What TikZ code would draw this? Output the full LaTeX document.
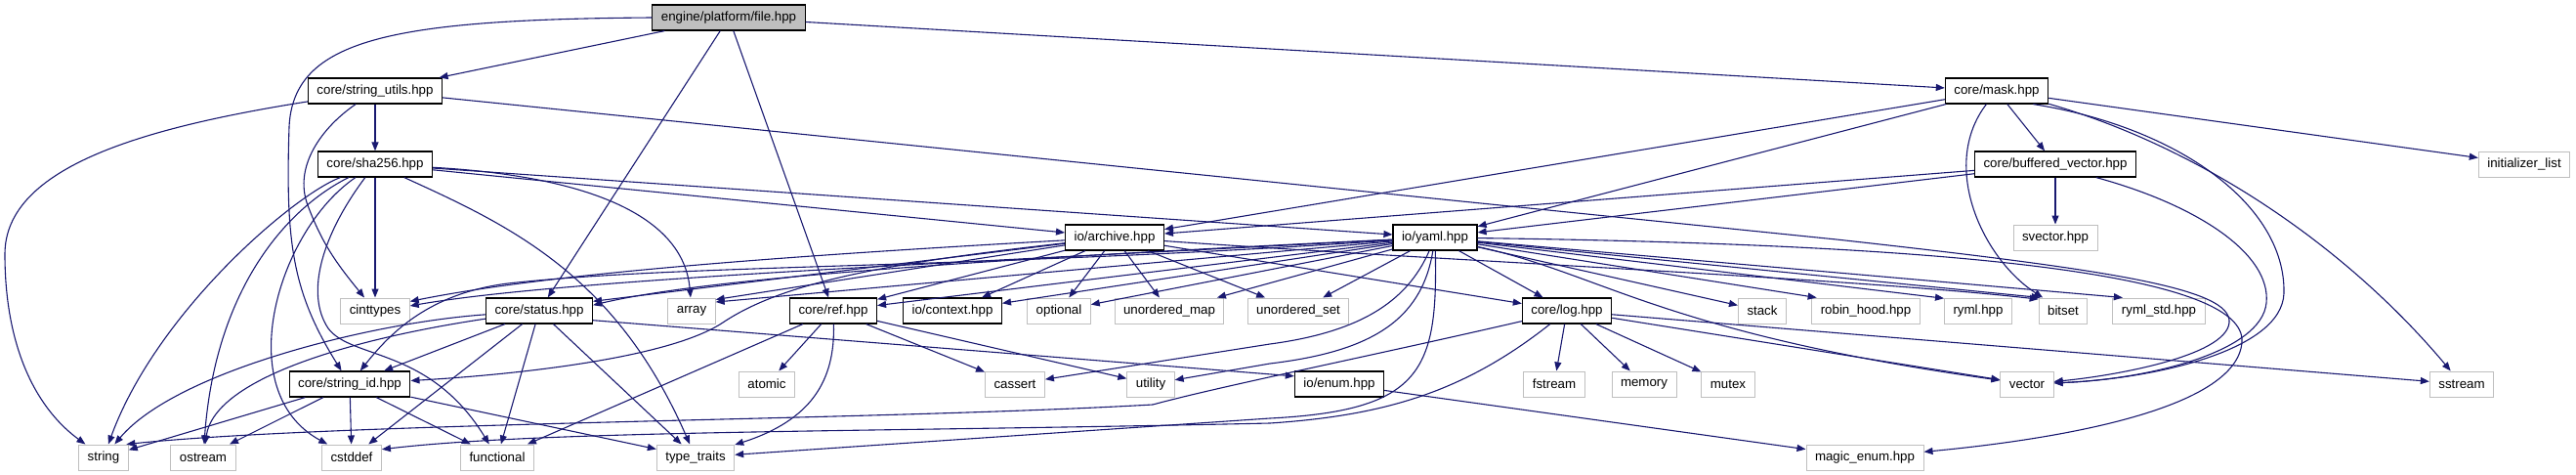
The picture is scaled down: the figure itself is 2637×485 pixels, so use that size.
\documentclass[tikz,border=0pt]{standalone}
\usepackage{fontspec}
\setmainfont{Liberation Sans}
\usetikzlibrary{arrows.meta}
\definecolor{incbleu}{HTML}{191970}
\definecolor{sysgris}{HTML}{BFBFBF}
\tikzset{>={Triangle[length=9pt,width=7pt]},
 fich/.style={draw,rectangle,fill=white,minimum height=26pt,inner xsep=9pt,inner ysep=0pt,font=\fontsize{13.3}{15}\selectfont},
 hdr/.style={fich,draw=black,line width=1.2pt},
 sys/.style={fich,draw=sysgris,line width=1pt},
 racine/.style={hdr,fill=sysgris},
 inc/.style={->,draw=incbleu,line width=1.1pt}}

\begin{document}
\begin{tikzpicture}[x=1pt,y=-1pt]
\useasboundingbox (0,0) rectangle (2637,485);
% Fichier racine et en-tetes du projet, rangee par rangee.
\node[racine] (engine) at (746,18) {engine/platform/file.hpp};
\node[hdr] (stru) at (384,93) {core/string\_utils.hpp};
\node[hdr] (mask) at (2044,93) {core/mask.hpp};
\node[hdr] (sha) at (384,168) {core/sha256.hpp};
\node[hdr] (bufvec) at (2104,168) {core/buffered\_vector.hpp};
\node[sys] (initlist) at (2584,168) {initializer\_list};
\node[hdr] (archive) at (1141,243) {io/archive.hpp};
\node[hdr] (yaml) at (1469,243) {io/yaml.hpp};
\node[sys] (svector) at (2104,243) {svector.hpp};
% Rangee du milieu.
\node[sys] (cinttypes) at (384,318) {cinttypes};
\node[hdr] (status) at (552,318) {core/status.hpp};
\node[sys] (array) at (708,318) {array};
\node[hdr] (ref) at (853,318) {core/ref.hpp};
\node[hdr] (context) at (975,318) {io/context.hpp};
\node[sys] (optional) at (1084,318) {optional};
\node[sys] (umap) at (1197,318) {unordered\_map};
\node[sys] (uset) at (1329,318) {unordered\_set};
\node[hdr] (log) at (1604,318) {core/log.hpp};
\node[sys] (stack) at (1804,318) {stack};
\node[sys] (robin) at (1910,318) {robin\_hood.hpp};
\node[sys] (ryml) at (2025,318) {ryml.hpp};
\node[sys] (bitset) at (2112,318) {bitset};
\node[sys] (rymlstd) at (2210,318) {ryml\_std.hpp};
\node[hdr] (strid) at (358,393) {core/string\_id.hpp};
\node[sys] (atomic) at (785,393) {atomic};
\node[sys] (cassert) at (1039,393) {cassert};
\node[sys] (utility) at (1178,393) {utility};
\node[hdr] (enum) at (1371,393) {io/enum.hpp};
\node[sys] (fstream) at (1591,393) {fstream};
\node[sys] (memory) at (1683,393) {memory};
\node[sys] (mutex) at (1769,393) {mutex};
\node[sys] (vector) at (2075,393) {vector};
\node[sys] (sstream) at (2520,393) {sstream};
% En-tetes standard du bas.
\node[sys] (string) at (106,468) {string};
\node[sys] (ostream) at (208,468) {ostream};
\node[sys] (cstddef) at (360,468) {cstddef};
\node[sys] (functional) at (509,468) {functional};
\node[sys] (typetraits) at (712,468) {type\_traits};
\node[sys] (magic) at (1909,468) {magic\_enum.hpp};
% Inclusions de la racine.
\draw[inc] (engine) -- (stru);
\draw[inc] (engine) -- (mask);
\draw[inc] (engine) -- (status);
\draw[inc] (engine) -- (ref);
\draw[inc] (engine.west) .. controls (400,20) and (300,40) .. (296,130) .. controls (292,250) and (300,300) .. (strid);
% core/string_utils.hpp
\draw[inc] (stru) -- (sha);
\draw[inc] (stru) .. controls (150,130) and (5,170) .. (5,260) .. controls (5,360) and (40,420) .. (string);
\draw[inc] (stru) .. controls (330,130) and (300,170) .. (315,210) .. controls (330,250) and (345,270) .. (cinttypes);
\draw[inc] (stru) -- (1880,245) .. controls (2160,276) and (2285,295) .. (2282,330) .. controls (2279,365) and (2160,385) .. (vector);
% core/sha256.hpp
\draw[inc] (sha) -- (archive);
\draw[inc] (sha) -- (yaml);
\draw[inc] (sha) .. controls (600,180) and (700,220) .. (array);
\draw[inc] (sha) .. controls (300,200) and (160,320) .. (string);
\draw[inc] (sha) .. controls (290,215) and (220,300) .. (ostream);
\draw[inc] (sha) .. controls (285,235) and (235,400) .. (cstddef);
\draw[inc] (sha) .. controls (330,240) and (312,300) .. (336,336) .. controls (360,368) and (440,355) .. (functional);
\draw[inc] (sha) -- (cinttypes);
\draw[inc] (sha) .. controls (520,230) and (630,280) .. (typetraits);
% core/mask.hpp et core/buffered_vector.hpp
\draw[inc] (mask) -- (archive);
\draw[inc] (mask) -- (yaml);
\draw[inc] (mask) -- (bufvec);
\draw[inc] (mask) -- (initlist);
\draw[inc] (mask.-128) .. controls (1985,170) and (2030,265) .. (bitset);
\draw[inc] (mask.-20) .. controls (2230,130) and (2340,210) .. (2338,300) .. controls (2336,360) and (2200,388) .. (vector);
\draw[inc] (mask.-14) .. controls (2250,150) and (2400,250) .. (sstream);
\draw[inc] (bufvec) -- (archive);
\draw[inc] (bufvec) -- (yaml);
\draw[inc] (bufvec) -- (svector);
\draw[inc] (bufvec.-18) .. controls (2250,210) and (2325,260) .. (2320,310) .. controls (2315,360) and (2200,388) .. (vector);
% io/archive.hpp
\draw[inc] (archive) .. controls (800,262) and (560,280) .. (cinttypes.15);
\draw[inc] (archive) -- (status.10);
\draw[inc] (archive) -- (array.25);
\draw[inc] (archive) -- (ref);
\draw[inc] (archive) -- (context);
\draw[inc] (archive) -- (optional);
\draw[inc] (archive) -- (umap);
\draw[inc] (archive) -- (uset);
\draw[inc] (archive) .. controls (900,270) and (800,290) .. (740,330) .. controls (680,370) and (500,385) .. (strid);
\draw[inc] (archive) -- (log);
\draw[inc] (archive) .. controls (1500,268) and (1900,285) .. (bitset.155);
% io/yaml.hpp
\draw[inc] (yaml) .. controls (1000,268) and (580,285) .. (cinttypes.8);
\draw[inc] (yaml) .. controls (900,270) and (700,290) .. (status.6);
\draw[inc] (yaml) -- (array.20);
\draw[inc] (yaml) -- (ref);
\draw[inc] (yaml) -- (context);
\draw[inc] (yaml) -- (optional);
\draw[inc] (yaml) -- (umap);
\draw[inc] (yaml) -- (uset);
\draw[inc] (yaml) .. controls (1000,275) and (700,270) .. (520,290) .. controls (440,300) and (400,340) .. (strid);
\draw[inc] (yaml) -- (log);
\draw[inc] (yaml) -- (stack);
\draw[inc] (yaml) -- (robin.165);
\draw[inc] (yaml) -- (ryml.160);
\draw[inc] (yaml) -- (bitset.150);
\draw[inc] (yaml) -- (rymlstd.160);
\draw[inc] (yaml) .. controls (1640,280) and (1700,340) .. (vector);
\draw[inc] (yaml) .. controls (2000,250) and (2300,280) .. (2295,350) .. controls (2290,420) and (2100,450) .. (magic);
\draw[inc] (yaml) .. controls (1440,310) and (1390,340) .. (1300,352) -- (cassert);
\draw[inc] (yaml) .. controls (1455,330) and (1400,360) .. (1300,372) -- (utility);
\draw[inc] (yaml) .. controls (1472,380) and (1455,420) .. (1300,428) -- (typetraits);
% core/status.hpp et core/ref.hpp
\draw[inc] (status) .. controls (380,330) and (180,380) .. (string);
\draw[inc] (status) .. controls (370,345) and (220,385) .. (ostream);
\draw[inc] (status) -- (strid);
\draw[inc] (status) -- (cstddef);
\draw[inc] (status) -- (functional);
\draw[inc] (status) -- (typetraits);
\draw[inc] (status.-10) -- (enum.170);
\draw[inc] (ref) -- (atomic);
\draw[inc] (ref) -- (cassert);
\draw[inc] (ref) -- (utility);
\draw[inc] (ref) -- (functional);
\draw[inc] (ref) .. controls (855,390) and (830,430) .. (typetraits);
% core/string_id.hpp
\draw[inc] (strid) -- (string);
\draw[inc] (strid) -- (ostream);
\draw[inc] (strid) -- (cstddef);
\draw[inc] (strid) -- (functional);
\draw[inc] (strid) -- (typetraits);
% core/log.hpp et io/enum.hpp
\draw[inc] (log) -- (fstream);
\draw[inc] (log) -- (memory);
\draw[inc] (log) -- (mutex);
\draw[inc] (log) -- (vector);
\draw[inc] (log) -- (sstream);
\draw[inc] (log) .. controls (1400,365) and (1250,395) .. (1180,414) .. controls (900,430) and (350,432) .. (string.30);
\draw[inc] (log) .. controls (1500,400) and (1420,425) .. (1300,433) .. controls (900,442) and (560,440) .. (cstddef.15);
\draw[inc] (enum) -- (magic);
\end{tikzpicture}
\end{document}
